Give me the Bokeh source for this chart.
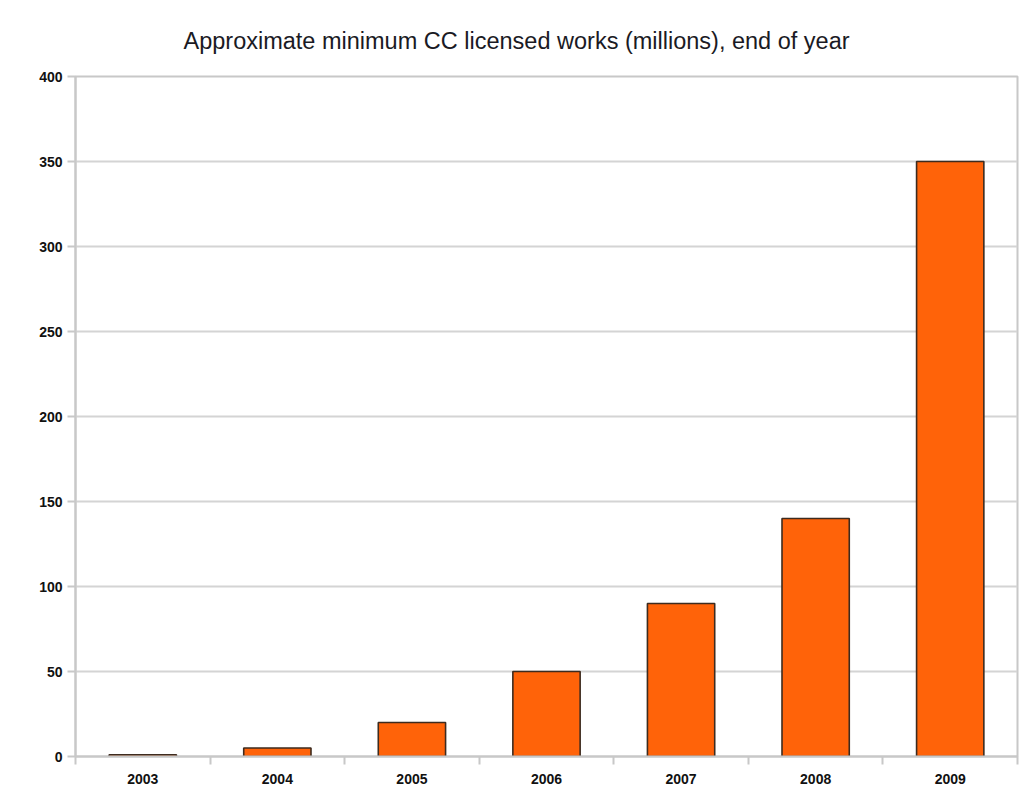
from bokeh.plotting import figure
from bokeh.models import FixedTicker, Range1d
from bokeh.embed import file_html
from bokeh.resources import INLINE

years = ["2003", "2004", "2005", "2006", "2007", "2008", "2009"]
works_millions = [1, 5, 20, 50, 90, 140, 350]
y_ticks = [0, 50, 100, 150, 200, 250, 300, 350, 400]

centers = [i + 0.5 for i in range(len(years))]
edges = list(range(len(years) + 1))

p = figure(width=1023, height=792, output_backend="svg", toolbar_location=None,
           x_range=Range1d(0, len(years)), y_range=Range1d(0, 400),
           title="Approximate minimum CC licensed works (millions), end of year",
           min_border_left=75, min_border_right=6, min_border_top=76, min_border_bottom=36)

p.vbar(x=centers, top=works_millions, width=0.5, bottom=0,
       fill_color="#ff6309", line_color="#3d2b1f", line_width=1.6)

p.title.align = "left"
p.title.offset = 108
p.title.standoff = 45
p.title.text_font = "Liberation Sans"
p.title.text_font_size = "23.5px"
p.title.text_font_style = "normal"
p.title.text_color = "#1a1a24"

p.background_fill_color = "white"
p.border_fill_color = "white"
p.outline_line_color = "#c8c8c8"
p.outline_line_width = 2

# y axis
p.yaxis.ticker = FixedTicker(ticks=y_ticks)
p.yaxis.axis_line_color = "#c8c8c8"
p.yaxis.axis_line_width = 2
p.yaxis.major_tick_line_color = "#c8c8c8"
p.yaxis.major_tick_line_width = 2
p.yaxis.major_tick_out = 8
p.yaxis.major_tick_in = 0
p.yaxis.minor_tick_line_color = None
p.yaxis.major_label_text_font = "Liberation Sans"
p.yaxis.major_label_text_font_size = "14px"
p.yaxis.major_label_text_font_style = "bold"
p.yaxis.major_label_text_color = "#111111"
p.yaxis.major_label_standoff = 5

# x axis: labels at centers, ticks at category edges (minor)
p.xaxis.ticker = FixedTicker(ticks=centers, minor_ticks=edges)
p.xaxis.major_label_overrides = {c: y for c, y in zip(centers, years)}
p.xaxis.axis_line_color = "#c8c8c8"
p.xaxis.axis_line_width = 2
p.xaxis.major_tick_line_color = None
p.xaxis.major_tick_out = 8
p.xaxis.major_tick_in = 0
p.xaxis.minor_tick_line_color = "#c8c8c8"
p.xaxis.minor_tick_line_width = 2
p.xaxis.minor_tick_out = 8
p.xaxis.minor_tick_in = 0
p.xaxis.major_label_text_font = "Liberation Sans"
p.xaxis.major_label_text_font_size = "14px"
p.xaxis.major_label_text_font_style = "bold"
p.xaxis.major_label_text_color = "#111111"
p.xaxis.major_label_standoff = 9

p.xgrid.grid_line_color = None
p.ygrid.ticker = FixedTicker(ticks=y_ticks)
p.ygrid.grid_line_color = "#d4d4d4"
p.ygrid.grid_line_width = 2

open("out.html", "w").write(file_html(p, INLINE))
